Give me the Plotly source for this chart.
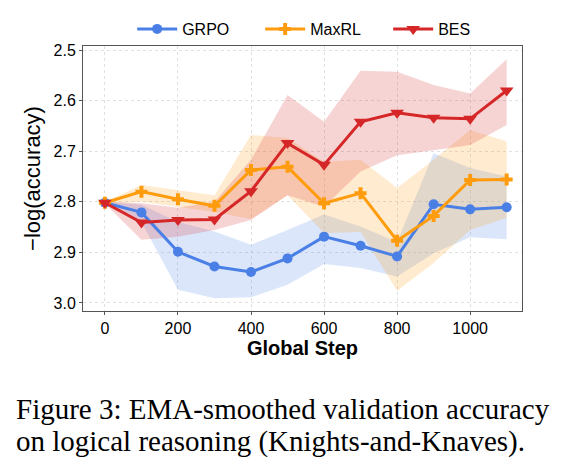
import plotly.graph_objects as go

steps = [0, 100, 200, 300, 400, 500, 600, 700, 800, 900, 1000, 1100]

grpo = [2.802, 2.821, 2.899, 2.928, 2.939, 2.912, 2.869, 2.887, 2.908, 2.805, 2.815, 2.811]
grpo_hi = [2.800, 2.806, 2.840, 2.859, 2.885, 2.856, 2.825, 2.849, 2.880, 2.704, 2.733, 2.750]
grpo_lo = [2.804, 2.840, 2.974, 2.991, 2.989, 2.964, 2.923, 2.931, 2.948, 2.902, 2.870, 2.874]

maxrl = [2.802, 2.780, 2.795, 2.808, 2.737, 2.731, 2.803, 2.783, 2.877, 2.828, 2.757, 2.756]
maxrl_hi = [2.800, 2.767, 2.777, 2.787, 2.668, 2.674, 2.721, 2.717, 2.773, 2.717, 2.658, 2.681]
maxrl_lo = [2.804, 2.800, 2.810, 2.820, 2.834, 2.787, 2.862, 2.860, 2.976, 2.921, 2.856, 2.832]

bes = [2.802, 2.841, 2.836, 2.835, 2.779, 2.684, 2.727, 2.642, 2.624, 2.634, 2.636, 2.580]
bes_hi = [2.800, 2.803, 2.812, 2.800, 2.717, 2.589, 2.642, 2.541, 2.543, 2.569, 2.586, 2.518]
bes_lo = [2.804, 2.875, 2.869, 2.856, 2.836, 2.787, 2.810, 2.740, 2.708, 2.698, 2.688, 2.648]

caption_lines = ["Figure 3: EMA-smoothed validation accuracy",
                 "on logical reasoning (Knights-and-Knaves)."]

series = [
    ("GRPO", grpo, grpo_hi, grpo_lo, "#4A80E6", "rgba(74,128,230,0.2)", "circle", 10),
    ("MaxRL", maxrl, maxrl_hi, maxrl_lo, "#FF9C0D", "rgba(255,156,13,0.2)", "cross", 10),
    ("BES", bes, bes_hi, bes_lo, "#D62728", "rgba(214,39,40,0.2)", "triangle-down", 12),
]

fig = go.Figure()
for name, y, hi, lo, col, fcol, sym, ms in series:
    fig.add_trace(go.Scatter(
        x=steps + steps[::-1], y=hi + lo[::-1], fill="toself", fillcolor=fcol,
        line=dict(width=0), mode="lines", showlegend=False, hoverinfo="skip"))
for name, y, hi, lo, col, fcol, sym, ms in series:
    fig.add_trace(go.Scatter(
        x=steps, y=y, name=name, mode="lines+markers",
        line=dict(color=col, width=3),
        marker=dict(symbol=sym, size=ms, color=col, line=dict(width=0))))

axis_common = dict(showgrid=True, gridcolor="#E0E0E0", griddash="3px,3px", gridwidth=1,
                   showline=True, linecolor="#555555", linewidth=1, mirror=True,
                   ticks="outside", ticklen=3, tickcolor="#555555", zeroline=False,
                   tickfont=dict(size=16))

fig.update_layout(
    width=567, height=471,
    margin=dict(l=83, r=45, t=46, b=160),
    paper_bgcolor="white", plot_bgcolor="white",
    font=dict(family="Liberation Sans, Arial, sans-serif", color="black"),
    legend=dict(orientation="h", x=0.112, xanchor="left", y=1.0, yanchor="bottom",
                font=dict(size=16), bgcolor="rgba(0,0,0,0)", itemwidth=40,
                entrywidth=73, entrywidthmode="pixels"),
    xaxis=dict(range=[-60, 1142], tickvals=[0, 200, 400, 600, 800, 1000],
               title=dict(text="<b>Global Step</b>", font=dict(size=20), standoff=2),
               **axis_common),
    yaxis=dict(range=[3.016, 2.492], tickvals=[2.5, 2.6, 2.7, 2.8, 2.9, 3.0],
               tickformat=".1f",
               title=dict(text="−log(accuracy)", font=dict(size=22), standoff=6),
               **axis_common),
)

for i, line in enumerate(caption_lines):
    fig.add_annotation(
        text=line, xref="paper", yref="paper", x=-0.157, y=-0.37 - i * 0.122,
        xanchor="left", yanchor="middle", showarrow=False,
        font=dict(family="Liberation Serif, Times New Roman, serif", size=29, color="black"))

fig.write_html("out.html")
